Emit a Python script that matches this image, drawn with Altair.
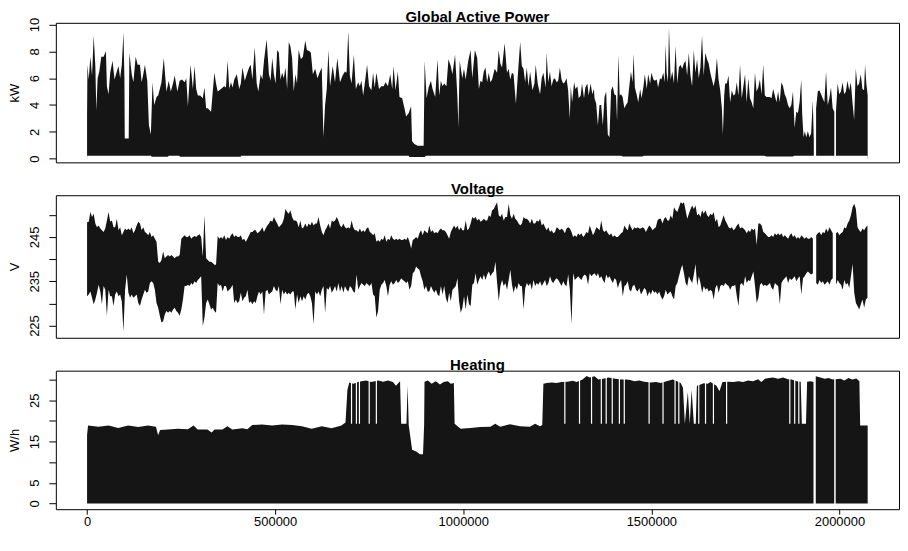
import altair as alt
import pandas as pd

# ---------------- data (x in thousands of observations/minutes) ----------------
TITLES = ["Global Active Power", "Voltage", "Heating"]
Y_TITLES = ["kW", "V", "W/h"]
X_TICKS = [0, 500000, 1000000, 1500000, 2000000]
X_DOMAIN = [-83009, 2158269]

# periods without data (thousands of minutes)
GAPS_K = [(1932.0, 1935.5), (1986.4, 1989.5)]

# Global active power: upper envelope
P1_X = [0, 1, 4.4, 8.8, 13.2, 17.6, 22, 24.6, 28.1, 32.5,
        37.8, 44, 50.1, 52.7, 57.1, 61.5, 67.7, 73, 79.1, 83.5,
        87.9, 92.3, 96.7, 99.3, 100.2, 110.7, 112.5, 118.7, 123.1, 129.2,
        134.5, 140.6, 145, 149.4, 153.8, 160, 164.4, 169.6, 174, 178.4,
        184.6, 189, 193.4, 197.8, 203.9, 211, 217.1, 222.4, 228.5, 232.9,
        240, 246.1, 252.3, 259.3, 263.7, 268.1, 275.1, 281.3, 285.7, 290.1,
        294.5, 300.6, 307.7, 312, 316.4, 320.8, 329.6, 338.4, 342.8, 347.2,
        351.6, 356, 360.4, 364.8, 369.2, 373.6, 378, 382.4, 386.8, 391.2,
        398.2, 404.3, 408.7, 413.1, 419.3, 424.6, 430.7, 435.1, 439.5, 445.7,
        450.9, 455.3, 461.5, 465.9, 470.3, 477.3, 483.5, 487.8, 492.2, 496.6,
        501, 505.4, 509.8, 514.2, 518.6, 523, 527.4, 531.8, 536.2, 540.6,
        545, 549.4, 553.8,
        558, 562.4, 568.5, 573.8, 580, 584.4, 591.4, 594.9, 600.2, 606.3,
        612.5, 617.8, 623.9, 628.3, 632.7, 637.1, 641.5, 645.9, 652.9, 659.1,
        665.2, 672.3, 679.3, 685.5, 689.9, 694.2, 698.6, 703, 709.2, 714.5,
        720.6, 725, 729.4, 733.8, 738.2, 744.3, 749.6, 755.8, 760.2, 764.6,
        769, 776, 782.1, 788.3, 793.6, 799.7, 805.9, 811.2, 814.7, 820,
        826.1, 830.5, 837.5, 843.7, 848.1, 855.1, 861.3, 863.9, 870, 878.8,
        887.6, 894.7, 897.3, 902.6, 907.8, 914, 918.4, 925.4, 931.6, 936,
        940.4, 944.8, 949.2, 955.3, 960.6, 966.7, 971.1, 978.2, 984.3, 987,
        990.5, 997.5, 1001.9, 1006.3, 1013.3, 1019.5, 1023.9, 1030.9, 1037.1, 1041.5,
        1045.8, 1050.2, 1054.6, 1059, 1063.4, 1067.8, 1072.2, 1076.6, 1083.6, 1089.8,
        1094.2, 1098.6, 1103, 1110, 1116.2, 1120.6, 1125, 1129.4, 1133.7, 1139.9,
        1145.2, 1151.3, 1155.7, 1160.1, 1164.5, 1168.9, 1173.3, 1177.7, 1183.8, 1189.1,
        1192.6, 1197.9, 1204.1, 1208.5, 1212.9, 1219, 1221.6, 1226, 1230.4, 1234.8,
        1239.2, 1243.6, 1248, 1252.4, 1256.8, 1261.2, 1265.6, 1270, 1274.4, 1278.8,
        1283.2, 1285.8, 1289.3, 1294.6, 1298.1, 1303.4, 1306.9, 1312.2, 1315.7, 1321,
        1324.5, 1329.8, 1333.3, 1338.6, 1343, 1347.3,
        1349, 1353.4, 1357.8, 1362.2, 1366.6, 1371, 1375.4, 1379.8, 1384.2, 1388.6,
        1393, 1397.3, 1401.7, 1406.1, 1408.8, 1412.3, 1415.8, 1419.3, 1423.7, 1428.1,
        1432.5, 1436.9, 1441.3, 1445.7, 1450.1, 1452.7, 1456.2, 1461.5, 1465, 1470.3,
        1473.8, 1479.1, 1482.6, 1487.9, 1491.4, 1496.7, 1500.2, 1505.5, 1509, 1514.3,
        1517.8, 1523, 1526.6, 1531.8, 1535.3, 1538, 1540.6, 1544.1, 1546.8, 1551.2,
        1555.6, 1560, 1564.4, 1568.8, 1573.1, 1577.5, 1581.9, 1586.3, 1590.7, 1595.1,
        1599.5, 1603.9, 1608.3, 1612.7, 1617.1, 1621.5, 1625.9, 1630.3, 1634.7, 1639.1,
        1643.5, 1647.9, 1652.3, 1656.7, 1661, 1665.4, 1669.8, 1674.2, 1678.6, 1683,
        1687.4, 1690.1, 1693.6, 1696.2, 1700.6, 1705, 1709.4, 1713.8, 1718.2, 1722.6,
        1727, 1731.4, 1735.8, 1740.2, 1744.6, 1749, 1753.3, 1757.7, 1762.1, 1766.5,
        1770.9, 1775.3, 1779.7, 1784.1, 1788.5, 1792.9, 1797.3, 1801.7, 1806.1, 1810.5,
        1814.9, 1819.3, 1823.7, 1828.1, 1832.5, 1836.8, 1841.2, 1845.6, 1850, 1854.4,
        1858.8, 1863.2, 1867.6, 1872, 1876.4, 1880.8, 1885.2, 1889.6, 1894, 1898.4,
        1901, 1904.5, 1908, 1911.6, 1916, 1920.4, 1924.7, 1929.1, 1931.8, 1937.9,
        1942.3, 1946.7, 1951.1, 1955.5, 1959.9, 1964.3, 1968.7, 1973.1, 1977.5, 1981.9,
        1986.3, 1990.7, 1995.1, 1999.5, 2003.9, 2008.3, 2012.6, 2017, 2021.4, 2025.8,
        2030.2, 2034.6, 2039, 2043.4, 2047.8, 2052.2, 2056.6, 2061, 2065.4, 2068,
        2071.5, 2075]
P1_TOP = [3.3, 7.0, 5.9, 7.6, 6.2, 9.15, 6.9, 3.6, 6.0, 6.5,
          7.6, 7.6, 8.0, 5.4, 4.8, 6.4, 7.3, 5.9, 6.5, 6.9,
          6.0, 7.0, 9.4, 6.0, 1.5, 1.5, 7.9, 6.3, 5.7, 7.6,
          7.0, 7.0, 5.7, 6.3, 7.0, 5.8, 2.5, 1.8, 5.7, 4.0,
          4.6, 4.7, 5.2, 5.7, 7.5, 5.0, 5.8, 5.0, 5.6, 6.2,
          5.0, 5.8, 5.9, 5.7, 6.0, 3.9, 7.0, 5.2, 6.9, 5.2,
          4.7, 4.7, 4.5, 5.3, 3.75, 3.75, 3.5, 6.4, 5.6, 5.0,
          5.1, 5.2, 5.3, 5.4, 5.3, 7.3, 5.2, 5.7, 5.3, 5.9,
          6.3, 5.2, 5.6, 6.8, 5.8, 6.3, 6.8, 7.0, 5.9, 8.3,
          5.6, 5.0, 6.3, 5.9, 7.3, 8.9, 6.3, 5.8, 7.5, 6.3,
          5.6, 8.1, 7.9, 5.9, 6.4, 6.0, 6.8, 5.2, 8.7, 8.35,
          7.5, 5.0, 6.3,
          5.6, 8.1, 7.4, 7.6, 8.8, 8.1, 8.0, 7.9, 6.3, 6.7,
          6.0, 6.4, 6.8, 1.6, 4.0, 5.2, 8.1, 5.4, 6.9, 5.7,
          7.5, 5.7, 6.2, 6.5, 6.4, 9.5, 6.2, 5.6, 7.75, 5.2,
          5.7, 5.4, 5.8, 4.7, 5.6, 7.0, 5.4, 5.1, 6.4, 5.3,
          6.4, 5.2, 5.4, 5.4, 5.7, 5.4, 6.3, 5.2, 6.9, 5.1,
          6.5, 4.6, 4.5, 3.75, 3.15, 3.4, 3.9, 1.3, 1.1, 0.97,
          0.97, 0.97, 7.3, 4.5, 5.3, 5.8, 5.2, 4.6, 7.4, 4.7,
          5.8, 5.4, 5.6, 5.4, 7.4, 6.9, 6.3, 7.75, 4.7, 2.3,
          7.3, 6.0, 6.7, 5.9, 7.3, 8.1, 6.0, 8.1, 7.5, 5.2,
          5.8, 5.7, 6.5, 6.8, 5.7, 6.4, 5.7, 5.9, 6.7, 6.4,
          8.1, 7.1, 6.8, 8.6, 6.4, 6.7, 5.9, 6.4, 6.3, 4.1,
          6.3, 8.7, 6.9, 6.7, 5.7, 6.8, 5.4, 6.5, 5.1, 5.6,
          7.0, 5.6, 4.8, 6.0, 6.4, 5.3, 7.9, 5.7, 6.5, 5.4,
          5.9, 6.0, 5.7, 5.8, 6.8, 5.9, 5.6, 5.7, 6.0, 5.1,
          3.0, 5.4, 4.2, 5.7, 5.2, 5.4, 4.5, 4.7, 5.6, 4.5,
          5.3, 5.6, 4.7, 5.6, 4.8, 5.2,
          4.5, 4.1, 2.5, 4.0, 4.0, 2.5, 4.6, 5.0, 1.8, 1.6,
          5.1, 5.4, 4.8, 4.7, 2.8, 7.75, 4.7, 4.8, 4.6, 3.75,
          4.0, 4.2, 5.4, 6.5, 5.7, 7.8, 5.3, 4.7, 4.2, 5.2,
          4.5, 5.4, 6.3, 5.2, 6.3, 5.6, 6.4, 5.9, 5.8, 5.9,
          5.3, 6.0, 5.9, 6.4, 5.7, 8.5, 6.4, 5.7, 9.75, 5.9,
          6.5, 5.6, 8.4, 5.6, 6.8, 7.0, 6.7, 7.1, 7.3, 6.2,
          7.9, 6.2, 5.4, 8.1, 6.4, 7.4, 6.0, 6.8, 9.2, 6.2,
          7.9, 7.4, 7.1, 6.4, 5.9, 5.4, 6.0, 7.5, 5.9, 5.1,
          3.75, 1.8, 4.7, 5.6, 5.6, 6.2, 4.2, 5.1, 4.7, 4.8,
          5.7, 4.7, 7.0, 4.5, 5.4, 6.3, 4.2, 6.0, 4.5, 4.2,
          3.75, 6.4, 5.0, 5.3, 5.9, 4.8, 7.0, 4.7, 4.6, 4.6,
          4.6, 4.5, 5.2, 4.7, 4.2, 5.0, 4.2, 5.7, 5.4, 4.8,
          4.5, 4.0, 3.75, 4.0, 5.0, 2.3, 3.5, 3.4, 4.2, 5.9,
          3.3, 1.6, 2.05, 1.6, 2.05, 1.6, 1.9, 4.35, 1.3, 3.75,
          5.0, 5.1, 4.8, 4.5, 4.2, 6.5, 4.0, 4.5, 5.3, 3.75,
          3.5, 3.5, 5.6, 4.8, 5.0, 5.7, 4.8, 5.0, 5.8, 5.1,
          5.7, 4.2, 2.9, 6.7, 5.4, 5.6, 6.3, 5.2, 5.1, 7.0,
          5.6, 4.7]
# Global active power: lower envelope
P1_BOT_X = [0, 170, 172, 215, 217, 245, 247, 408, 410, 855, 857,
            898, 900, 1420, 1424, 1476, 1480, 1800, 1806, 1876, 1880, 2075]
P1_BOT = [0.22, 0.22, 0.15, 0.15, 0.22, 0.22, 0.14, 0.14, 0.22, 0.22, 0.12,
          0.12, 0.22, 0.22, 0.16, 0.16, 0.22, 0.22, 0.16, 0.16, 0.22, 0.22]

# Voltage: envelope sampled every 4.395 thousand minutes
V_STEP_K = 4.395
V_TOP = [248.3, 248.4, 250.6, 249.5, 250.2, 248.0, 247.2, 247.6, 246.9, 246.5,
         246.1, 246.9, 248.7, 250.6, 248.4, 248.7, 247.2, 247.2, 249.1, 246.5,
         247.2, 245.4, 246.1, 246.9, 246.5, 246.9, 246.5, 247.2, 245.8, 246.5,
         247.6, 248.4, 248.0, 246.5, 247.2, 246.1, 245.8, 245.4, 246.1, 245.0,
         245.4, 244.6, 243.9, 239.4, 239.1, 239.8, 241.7, 240.2, 240.6, 240.9,
         240.6, 240.9, 240.6, 240.2, 240.6, 240.6, 240.9, 244.6, 245.0, 245.4,
         245.0, 245.0, 245.4, 244.6, 245.0, 245.2, 245.0, 245.4, 245.6, 245.0,
         240.6, 249.9, 240.2, 239.8, 239.4, 239.4, 239.1, 238.7, 238.7, 245.2,
         244.6, 245.0, 244.6, 245.4, 244.3, 245.0, 244.6, 245.4, 245.8, 245.0,
         245.4, 245.0, 245.0, 245.4, 244.3, 244.6, 243.9, 244.6, 245.4, 246.1,
         246.1, 246.5, 246.5, 245.8, 246.1, 246.5, 247.2, 246.1, 246.9, 247.6,
         248.0, 248.7, 248.4, 249.5, 248.7, 248.0, 247.2, 247.6, 248.0, 249.1,
         251.3, 250.6, 250.2, 251.0, 249.5, 248.7, 248.7, 248.4,
         247.2, 248.7, 246.9, 247.2, 248.0, 247.2, 248.0, 247.6, 248.4, 247.6,
         248.0, 248.0, 249.5, 247.6, 246.1, 245.4, 246.5, 247.2, 248.0, 246.9,
         248.7, 248.4, 248.7, 249.5, 248.7, 247.6, 247.2, 248.0, 247.2, 246.9,
         247.2, 246.9, 248.7, 247.2, 246.5, 246.5, 246.1, 246.9, 246.1, 246.5,
         246.1, 246.9, 247.2, 246.1, 245.8, 245.4, 245.8, 243.9, 244.3, 243.9,
         244.6, 244.3, 245.4, 243.9, 244.6, 244.3, 245.4, 244.6, 244.3, 244.6,
         244.3, 244.6, 244.3, 244.3, 244.6, 244.3, 245.0, 243.9, 242.4, 244.3,
         244.6, 245.0, 244.6, 245.8, 246.5, 245.4, 246.5, 246.1, 245.8, 247.6,
         246.1, 246.5, 245.8, 246.1, 245.8, 246.5, 246.9, 246.5, 246.5, 246.1,
         245.4, 244.6, 246.1, 246.9, 247.6, 246.9, 247.6, 246.5, 247.2, 246.5,
         246.5, 248.7, 246.5, 246.9, 248.0, 249.5, 249.1, 249.5, 248.7, 249.1,
         248.4, 248.7, 249.1, 248.7, 248.7, 249.9, 249.5, 251.0, 251.3, 252.1,
         252.8, 249.9, 249.5, 250.2, 248.7, 249.5, 249.5, 252.5, 249.9, 249.1,
         250.2, 249.1, 248.7, 248.0, 247.6, 248.0, 249.5, 249.1, 249.1, 248.7,
         248.0, 249.1, 248.0, 248.0, 248.7, 248.4, 249.1, 247.6, 248.0, 247.2,
         246.5, 247.2, 246.1, 246.5, 245.8, 246.1, 247.2, 246.9, 246.5, 246.9,
         246.5, 245.8, 246.9, 247.2, 246.9, 246.1, 245.0, 245.4, 245.0, 245.8,
         245.4, 245.8, 245.0, 245.4, 246.1, 245.8, 247.6, 246.5, 245.4, 246.1,
         247.2, 246.9, 246.5, 248.7, 246.5, 246.1, 246.5, 245.8, 245.4, 245.8,
         245.0, 245.4, 245.0, 245.0, 245.4, 245.8, 246.1, 247.6, 246.9, 246.5,
         248.0, 247.2, 246.5, 247.2, 246.9, 247.2, 246.9, 246.9, 247.2, 246.9,
         246.1, 246.9, 247.6, 247.2, 246.5, 246.9, 247.2, 248.7, 249.1, 249.1,
         248.0, 249.1, 249.5, 248.7, 248.7, 249.9, 249.1, 251.7, 251.0, 250.6,
         251.7, 252.8, 252.5, 252.8, 251.0, 249.1, 250.2, 251.3, 252.1, 251.3,
         252.1, 249.9, 250.2, 249.5, 251.0, 250.2, 251.0, 249.9, 249.5, 250.2,
         249.9, 250.6, 248.4, 249.1, 247.2, 247.6, 248.7, 249.9, 248.7, 248.0,
         247.2, 246.9, 247.2, 246.5, 246.9, 247.6, 248.0, 246.9, 247.2, 246.9,
         246.5, 245.8, 246.5, 246.1, 246.9, 246.5, 246.9, 243.2, 248.0, 248.0,
         247.6, 246.1, 245.8, 245.4, 245.0, 245.0, 245.4, 245.0, 245.8, 245.4,
         245.8, 245.4, 245.8, 245.0, 245.4, 245.0, 244.6, 245.4, 245.8, 245.0,
         245.4, 244.6, 245.0, 244.6, 245.4, 245.0, 244.6, 245.0, 244.6, 244.6,
         245.0, 244.6, 244.3, 245.4, 245.8, 246.1, 245.4, 246.1, 245.8, 246.9,
         246.1, 247.2, 246.5, 245.8, 246.1, 245.8, 246.1, 245.4, 245.8, 246.1,
         247.2, 246.9, 248.0, 248.7, 249.9, 251.7, 252.5, 251.3, 247.2, 246.5,
         246.1, 246.9, 246.5, 247.2, 247.6]
V_BOT = [231.6, 232.0, 232.7, 231.3, 229.8, 230.9, 232.4, 234.2, 232.7, 229.8,
         233.9, 233.1, 227.2, 233.1, 231.6, 231.6, 229.4, 232.0, 232.7, 231.6,
         232.0, 230.5, 223.6, 233.1, 236.5, 232.4, 231.3, 232.0, 231.3, 231.6,
         232.0, 230.1, 229.4, 230.9, 232.0, 233.1, 232.4, 232.7, 234.6, 235.0,
         234.6, 233.1, 230.1, 229.0, 227.2, 225.7, 226.0, 227.5, 228.3, 227.9,
         228.3, 227.9, 228.6, 229.0, 228.3, 227.9, 227.2, 228.6, 230.9, 233.9,
         233.9, 234.2, 233.9, 234.6, 234.2, 235.0, 234.6, 235.3, 235.7, 236.1,
         224.9, 226.8, 230.1, 230.9, 229.8, 228.6, 229.0, 228.3, 227.9, 234.6,
         233.9, 234.2, 232.7, 233.9, 233.9, 232.7, 233.1, 233.5, 234.2, 230.1,
         230.9, 230.1, 230.5, 232.4, 230.5, 231.3, 231.6, 233.1, 230.1, 230.5,
         229.8, 230.5, 230.1, 231.6, 232.7, 232.0, 232.7, 227.5, 232.7, 233.1,
         232.0, 232.4, 232.7, 233.9, 233.1, 232.7, 233.9, 229.8, 233.1, 232.0,
         232.7, 232.0, 232.4, 232.0, 232.7, 232.7, 228.6, 232.0,
         230.1, 231.6, 230.5, 231.6, 230.9, 232.0, 232.4, 231.6, 230.1, 225.3,
         232.7, 232.0, 232.7, 231.6, 233.1, 233.9, 227.9, 233.5, 233.1, 233.9,
         232.4, 233.1, 233.9, 232.7, 234.6, 232.7, 233.9, 232.4, 233.9, 233.1,
         232.7, 233.9, 233.5, 232.7, 232.4, 236.5, 233.1, 233.9, 234.6, 234.2,
         233.9, 234.6, 234.2, 233.9, 234.6, 232.0, 231.6, 226.8, 228.3, 233.1,
         234.2, 234.6, 235.3, 233.9, 231.6, 234.2, 235.0, 234.2, 234.6, 235.3,
         234.6, 235.0, 235.7, 235.3, 235.0, 234.6, 235.0, 233.1, 233.9, 236.8,
         237.2, 238.3, 237.9, 237.6, 236.1, 235.0, 233.1, 233.9, 232.7, 232.7,
         233.9, 233.1, 232.4, 233.1, 232.0, 231.6, 233.9, 232.0, 233.9, 231.3,
         230.1, 232.4, 230.5, 233.1, 233.5, 233.9, 235.7, 230.5, 227.9, 229.0,
         231.6, 228.6, 232.0, 229.8, 229.4, 234.2, 234.6, 236.8, 234.2, 235.3,
         236.1, 235.3, 236.5, 235.3, 236.5, 237.2, 236.1, 236.8, 237.2, 239.4,
         234.6, 230.5, 233.9, 235.3, 233.9, 234.6, 233.1, 235.3, 237.6, 234.2,
         232.4, 233.9, 233.1, 234.6, 233.9, 233.9, 228.6, 233.5, 234.6, 233.9,
         234.6, 233.1, 235.3, 233.9, 234.6, 234.2, 235.0, 233.9, 234.6, 235.3,
         233.9, 234.6, 236.1, 235.0, 234.6, 235.3, 235.7, 235.3, 234.6, 233.9,
         235.0, 234.2, 233.9, 236.5, 233.1, 225.3, 236.8, 235.3, 235.7, 236.1,
         235.7, 235.3, 236.1, 236.5, 236.1, 234.2, 236.8, 236.1, 236.5, 236.8,
         236.1, 236.8, 235.7, 236.1, 235.3, 234.6, 236.5, 235.7, 236.1, 235.3,
         234.6, 235.7, 235.3, 233.5, 234.6, 235.3, 231.6, 233.9, 234.2, 235.0,
         233.1, 232.7, 233.9, 234.2, 233.1, 232.7, 233.5, 232.0, 232.7, 233.5,
         233.1, 231.6, 232.7, 232.0, 233.1, 232.4, 232.7, 232.0, 232.7, 231.6,
         230.9, 231.6, 233.1, 232.0, 232.4, 232.7, 231.6, 230.9, 233.9, 234.6,
         236.1, 237.6, 238.7, 236.8, 234.6, 233.9, 236.1, 235.3, 234.6, 236.5,
         238.9, 233.9, 236.1, 234.6, 232.4, 233.9, 233.1, 233.5, 232.7, 233.1,
         232.7, 230.9, 233.5, 234.2, 232.4, 233.9, 234.2, 233.9, 234.6, 234.2,
         233.9, 233.1, 233.9, 233.9, 234.2, 231.6, 229.4, 234.2, 234.6, 233.9,
         236.1, 234.6, 235.3, 235.0, 236.1, 237.2, 233.9, 230.1, 231.3, 234.2,
         234.6, 233.9, 234.2, 233.9, 234.2, 234.6, 233.5, 233.1, 234.6, 234.2,
         233.9, 229.8, 234.6, 235.3, 235.7, 236.1, 234.6, 235.7, 235.3, 235.7,
         236.1, 235.0, 235.7, 236.1, 232.0, 235.7, 236.1, 236.8, 237.2, 236.8,
         236.5, 236.8, 236.8, 234.6, 234.2, 235.3, 234.6, 235.0, 234.2, 234.6,
         235.0, 234.2, 235.3, 235.7, 236.1, 234.2, 235.3, 234.6, 234.2, 233.1,
         235.3, 234.2, 234.6, 233.5, 236.1, 238.9, 232.4, 230.1, 229.4, 228.6,
         229.8, 230.9, 229.0, 230.9, 231.3]

# Heating (sub-metering 3): upper envelope, lower bound is 0
H_X = [0, 2.6, 30, 57, 83, 109, 136, 162, 183, 189, 194, 215, 241, 268, 283, 294,
       320, 331, 339, 360, 373, 386, 413, 426, 439, 465, 492, 518, 545, 571, 597,
       624, 650, 676, 687, 692, 697, 708, 721, 729, 742, 755, 774, 787, 800, 813,
       821, 832, 835, 849, 852, 855, 864, 875, 885, 893, 896, 897, 906, 916, 927,
       938, 948, 959, 967, 975, 977, 993, 1019, 1045, 1072, 1085, 1098, 1124, 1151,
       1177, 1191, 1204, 1210, 1213, 1222, 1235, 1248, 1261, 1277, 1291, 1301, 1317,
       1328, 1336, 1349, 1359, 1372, 1386, 1404, 1420, 1433, 1444, 1455, 1468, 1481,
       1499, 1512, 1525, 1536, 1547, 1557, 1568, 1578, 1584, 1589, 1597, 1602, 1607,
       1613, 1618, 1621, 1631, 1639, 1650, 1657, 1673, 1681, 1689, 1705, 1718, 1731,
       1744, 1757, 1770, 1784, 1792, 1802, 1813, 1823, 1837, 1850, 1863, 1873, 1886,
       1897, 1900, 1911, 1914, 1923, 1931, 1937, 1947, 1961, 1971, 1982, 1986, 1990,
       2003, 2013, 2024, 2034, 2045, 2053, 2055, 2066, 2075]
H_TOP = [16.5, 18.9, 18.6, 18.9, 18.3, 18.9, 18.5, 18.9, 18.6, 16.5, 17.8, 17.9, 18.1, 18.0, 18.9, 17.9,
         17.9, 17.2, 17.9, 17.9, 18.7, 17.9, 18.2, 18.0, 19.0, 19.1, 18.9, 19.1, 19.0, 18.7, 18.1,
         18.7, 18.2, 18.9, 19.6, 27.5, 29.3, 29.0, 29.4, 29.6, 29.8, 29.4, 29.8, 29.5, 29.8, 29.4,
         28.5, 29.6, 19.3, 19.3, 28.5, 19.0, 13.0, 12.6, 11.9, 11.9, 19.0, 29.5, 29.8, 29.0, 29.6,
         28.8, 29.4, 29.6, 29.0, 29.2, 19.3, 18.1, 18.3, 18.5, 18.6, 19.3, 18.6, 19.2, 18.7,
         18.6, 19.3, 18.7, 19.0, 29.0, 29.2, 29.3, 29.2, 29.4, 29.5, 29.7, 29.4, 30.0,
         30.9, 30.5, 30.8, 30.0, 30.2, 30.5, 30.2, 30.0, 30.0, 29.9, 29.6, 29.8, 29.5,
         29.3, 29.4, 29.2, 29.5, 29.8, 30.0, 29.6, 29.2, 28.0, 19.3, 27.0, 19.3, 27.5,
         19.3, 19.3, 28.5, 28.8, 29.1, 29.0, 29.4, 28.5, 27.2, 29.4, 29.5, 29.4, 29.6,
         29.4, 29.8, 29.6, 30.1, 29.4, 30.2, 30.4, 30.5, 30.2, 30.5, 30.1, 30.0, 29.6,
         29.5, 19.3, 19.3, 29.5, 29.6, 29.4, 30.8, 30.6, 30.2, 30.4, 30.0, 30.1, 30.1,
         30.2, 29.8, 30.4, 30.0, 30.3, 29.6, 18.9, 18.9, 18.9]
# Heating: thin drops to the ~19 W/h level inside the high periods
H_DIP_X = [703, 716, 724, 750, 769, 1270, 1309, 1341, 1367, 1380, 1396, 1415, 1428,
           1494, 1531, 1563, 1573, 1626, 1644, 1665, 1700, 1868, 1881, 1892]
H_DIP_LOW = [19.3] * len(H_DIP_X)

assert len(P1_X) == len(P1_TOP)
assert len(P1_BOT_X) == len(P1_BOT)
assert len(V_TOP) == len(V_BOT)
assert len(H_X) == len(H_TOP)

INK = "#151515"
W = 846
HEIGHTS = [140, 143, 139]
FONT = "Liberation Sans"


def frame(xs_k, cols):
    rows = []
    for j, k in enumerate(xs_k):
        if any(a < k < b for a, b in GAPS_K):
            continue
        row = {"x": k * 1000, "seg": sum(1 for a, b in GAPS_K if k >= b)}
        for name, arr in cols.items():
            row[name] = arr[j]
        rows.append(row)
    return pd.DataFrame(rows)


def xenc(show_axis):
    sc = alt.Scale(domain=X_DOMAIN, nice=False, zero=False)
    if show_axis:
        ax = alt.Axis(values=X_TICKS, format="d", title=None, tickSize=5,
                      tickCount=20, labelPadding=1, labelAngle=0, labelOverlap=False,
                      labelFlush=False, grid=False, domain=False)
        return alt.X("x:Q", scale=sc, axis=ax)
    return alt.X("x:Q", scale=sc, axis=None)


def yaxis(values, title, h, labelled=None):
    kw = dict(values=values, tickCount=50, format="d", title=title, labelAngle=270,
              labelAlign="center", labelBaseline="alphabetic", labelPadding=10, tickSize=7,
              labelOverlap=False, labelFlush=False, grid=False, domain=False,
              titleAngle=270, titleAlign="center", titleBaseline="middle",
              titleX=-41, titleY=h / 2)
    if labelled is not None:
        arr = ",".join(str(v) for v in labelled)
        kw["labelExpr"] = "indexof([" + arr + "], datum.value) >= 0 ? datum.label : ''"
    return alt.Axis(**kw)


def title_layer(text):
    return alt.Chart(pd.DataFrame({"t": [text]})).mark_text(
        font=FONT, fontSize=15, fontWeight="bold", color="black",
        align="center", baseline="alphabetic",
    ).encode(x=alt.value(W / 2), y=alt.value(-1), text="t:N")


# ---- panel 1
d1 = frame(P1_X, {"y": P1_TOP})
b1 = pd.DataFrame({"x": [k * 1000 for k in P1_BOT_X], "y": P1_BOT})
ys1 = alt.Scale(domain=[-0.27, 10.12], nice=False, zero=False)
ax1 = yaxis([0, 2, 4, 6, 8, 10], Y_TITLES[0], HEIGHTS[0])
top1 = alt.Chart(d1).mark_area(color=INK, clip=True).encode(
    x=xenc(False),
    y=alt.Y("y:Q", scale=ys1, axis=ax1),
    y2=alt.datum(0.0),
    detail="seg:N",
)
bot1 = alt.Chart(b1).mark_area(color="white", clip=True).encode(
    x=xenc(False), y=alt.Y("y:Q", scale=ys1, axis=ax1), y2=alt.datum(-0.2)
)
c1 = alt.layer(top1, bot1, title_layer(TITLES[0])).properties(width=W, height=HEIGHTS[0])

# ---- panel 2
d2 = frame([i * V_STEP_K for i in range(len(V_TOP))], {"top": V_TOP, "bot": V_BOT})
ys2 = alt.Scale(domain=[222.25, 254.4], nice=False, zero=False)
band2 = alt.Chart(d2).mark_area(color=INK, clip=True).encode(
    x=xenc(False),
    y=alt.Y("top:Q", scale=ys2,
            axis=yaxis([225, 230, 235, 240, 245, 250], Y_TITLES[1], HEIGHTS[1], [225, 235, 245])),
    y2="bot:Q",
    detail="seg:N",
)
c2 = alt.layer(band2, title_layer(TITLES[1])).properties(width=W, height=HEIGHTS[1])

# ---- panel 3
d3 = frame(H_X, {"y": H_TOP})
dips = pd.DataFrame({"x": [k * 1000 for k in H_DIP_X], "y": H_DIP_LOW})
ys3 = alt.Scale(domain=[-1.4, 32.17], nice=False, zero=False)
ax3 = yaxis([0, 5, 10, 15, 20, 25, 30], Y_TITLES[2], HEIGHTS[2], [0, 5, 15, 25])
top3 = alt.Chart(d3).mark_area(color=INK, clip=True).encode(
    x=xenc(True),
    y=alt.Y("y:Q", scale=ys3, axis=ax3),
    y2=alt.datum(0.0),
    detail="seg:N",
)
dip3 = alt.Chart(dips).mark_rule(color="white", strokeWidth=1.2, clip=True).encode(
    x=xenc(True), y=alt.Y("y:Q", scale=ys3, axis=ax3), y2=alt.datum(31.8)
)
c3 = alt.layer(top3, dip3, title_layer(TITLES[2])).properties(width=W, height=HEIGHTS[2])

chart = (
    alt.vconcat(c1, c2, c3, spacing=18)
    .properties(padding={"left": 0, "top": 0, "right": 0, "bottom": 0}, background="white")
    .configure_view(stroke="black", strokeWidth=1)
    .configure_axis(labelFont=FONT, titleFont=FONT, labelFontSize=13, titleFontSize=13,
                    titleFontWeight="normal", labelColor="black", titleColor="black",
                    tickColor="black", tickWidth=1)
)

chart.save("out.html", embed_options={"renderer": "svg", "actions": False})
